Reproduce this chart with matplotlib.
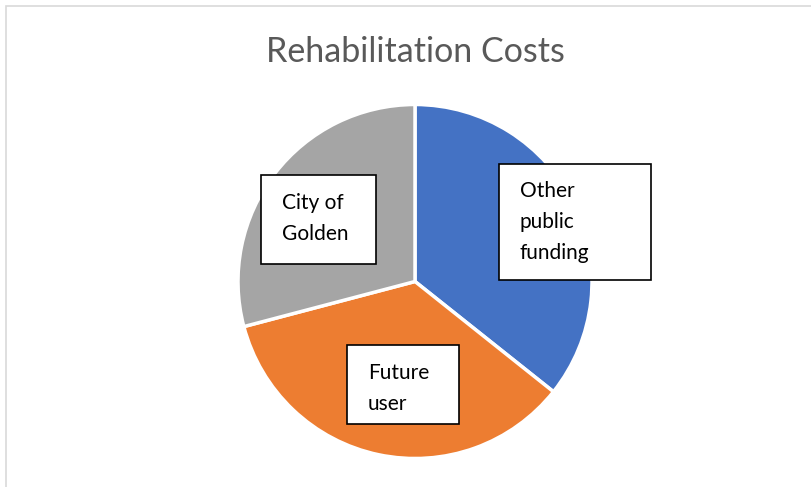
import matplotlib.pyplot as plt
from matplotlib.patches import Rectangle

# slice data (clockwise from 12 o'clock)
labels = ['Other public funding', 'Future user', 'City of Golden']
shares = [35.7, 35.2, 29.1]
colors = ['#4472C4', '#ED7D31', '#A5A5A5']

# text boxes laid over the pie: (left, top, right, bottom) in pixels, text lines
box_specs = [
    ((499, 164, 651, 280), ['Other', 'public', 'funding'], (520, 197)),
    ((347, 345, 459, 424), ['Future', 'user'], (368, 379)),
    ((261, 175, 376, 264), ['City of', 'Golden'], (282, 209)),
]

W, H = 812, 487
fig = plt.figure(figsize=(W / 100, H / 100), dpi=100)
fig.patch.set_facecolor('white')

# outer chart border
fig.add_artist(Rectangle((6 / W, -0.1), 1.2, 1.1 - 6 / H, transform=fig.transFigure,
                         fill=False, edgecolor='#D9D9D9', linewidth=1.2))

cx, cy, r = 415, 281.5, 177
ax = fig.add_axes([(cx - r) / W, (H - cy - r) / H, 2 * r / W, 2 * r / H])
ax.pie(shares, colors=colors, startangle=90, counterclock=False, radius=1,
       wedgeprops=dict(edgecolor='white', linewidth=2.5))
ax.set_xlim(-1, 1)
ax.set_ylim(-1, 1)
ax.set_aspect('equal')
ax.axis('off')

fig.text(cx / W, 1 - 62 / H, 'Rehabilitation Costs', ha='center', va='baseline',
         fontsize=24.5, family='Lato', color='#595959')

line_gap = 31
for (l, t, rr, b), lines, (tx, ty) in box_specs:
    fig.add_artist(Rectangle((l / W, 1 - b / H), (rr - l) / W, (b - t) / H,
                             transform=fig.transFigure, facecolor='white',
                             edgecolor='black', linewidth=1.2))
    for i, line in enumerate(lines):
        fig.text(tx / W, 1 - (ty + i * line_gap) / H, line, ha='left', va='baseline',
                 fontsize=15, family='Lato', color='black')

fig.savefig('out.png', dpi=100)
